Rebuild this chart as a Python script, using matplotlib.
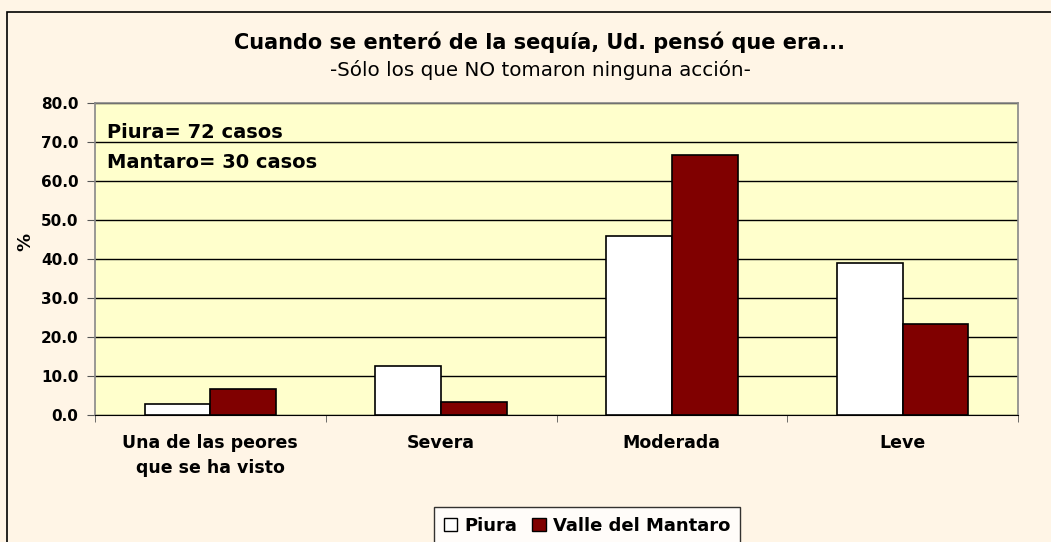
import numpy as np
import matplotlib.pyplot as plt
from matplotlib.patches import Rectangle, Patch

plt.rcParams['font.family'] = ['DejaVu Sans']

categories = ['Una de las peores\nque se ha visto', 'Severa', 'Moderada', 'Leve']
piura = [2.8, 12.5, 45.8, 38.9]
mantaro = [6.7, 3.3, 66.7, 23.3]
yticks = [0, 10, 20, 30, 40, 50, 60, 70, 80]

W, H = 1051, 542
fig = plt.figure(figsize=(W / 100, H / 100), dpi=100)
fig.patch.set_facecolor('#FFF5E6')

# outer chart border (cropped at right/bottom)
fig.patches.append(Rectangle((7 / W, -0.2), 1.5, (H - 12) / H + 0.2, transform=fig.transFigure,
                             fill=False, edgecolor='black', lw=1.2))

ax = fig.add_axes([95 / W, (H - 415) / H, 923 / W, 312 / H])
ax.set_facecolor('#FFFFCC')

x = np.arange(len(categories))
bw = 0.285
ax.bar(x - bw / 2, piura, bw, color='white', edgecolor='black', lw=1.2, label='Piura', zorder=3)
ax.bar(x + bw / 2, mantaro, bw, color='#800000', edgecolor='black', lw=1.2, label='Valle del Mantaro', zorder=3)

ax.set_xlim(-0.5, len(categories) - 0.5)
ax.set_ylim(0, 80)
ax.set_yticks(yticks)
ax.set_yticklabels(['%.1f' % v for v in yticks], fontsize=11, fontweight='bold')
ax.yaxis.grid(True, color='black', lw=1)
ax.set_axisbelow(True)

ax.set_xticks(x)
ax.set_xticklabels(categories, fontsize=12.5, fontweight='bold', linespacing=1.5)
ax.tick_params(axis='x', length=0, pad=14)
ax.set_xticks(np.arange(-0.5, len(categories)), minor=True)
ax.tick_params(axis='x', which='minor', length=5, color='#555555')
ax.tick_params(axis='y', length=6, color='#555555', pad=6)

for s in ['top', 'right', 'left']:
    ax.spines[s].set_color('#888888')
    ax.spines[s].set_linewidth(1.2)
ax.spines['bottom'].set_color('black')

ax.set_ylabel('%', fontsize=13, fontweight='bold')
ax.yaxis.set_label_coords(-0.066, 0.554)

ax.text(0.013, 0.905, 'Piura= 72 casos', transform=ax.transAxes, fontsize=14, fontweight='bold', va='center')
ax.text(0.013, 0.81, 'Mantaro= 30 casos', transform=ax.transAxes, fontsize=14, fontweight='bold', va='center')

fig.text(540 / W, 1 - 42 / H, 'Cuando se enteró de la sequía, Ud. pensó que era...',
         fontsize=15, fontweight='bold', ha='center', va='center')
fig.text(540 / W, 1 - 70 / H, '-Sólo los que NO tomaron ninguna acción-',
         fontsize=14.3, ha='center', va='center')

handles = [Patch(facecolor='white', edgecolor='black', label='Piura'),
           Patch(facecolor='#800000', edgecolor='black', label='Valle del Mantaro')]
leg = fig.legend(handles=handles, loc='upper center', bbox_to_anchor=(587 / W, 1 - 507 / H), ncol=2,
                 frameon=True, fancybox=False, edgecolor='black', handlelength=0.75, handleheight=0.75,
                 handletextpad=0.4, columnspacing=0.8, borderpad=0.55, borderaxespad=0,
                 prop={'weight': 'bold', 'size': 13})
leg.get_frame().set_facecolor('white')
leg.get_frame().set_linewidth(1)

fig.savefig('out.png', dpi=100, facecolor=fig.get_facecolor())
